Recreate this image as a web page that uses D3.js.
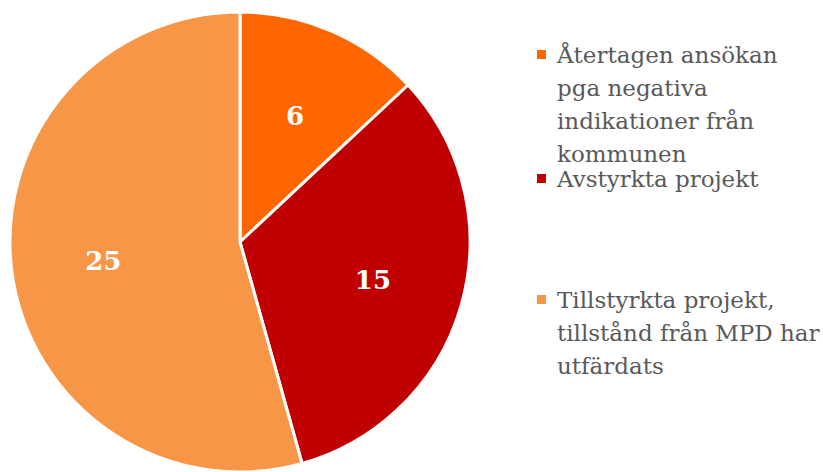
<!DOCTYPE html>
<html lang="sv">
<head>
  <meta charset="UTF-8">
  <title>Pie</title>
  <script src="https://d3js.org/d3.v7.min.js"></script>
  <style>
    body { margin: 0; background: #fff; }
    svg { font-family: "DejaVu Serif", serif; }
  </style>
</head>
<body>
  <svg></svg>
  <script>
    const categories = [
      'Återtagen ansökan pga negativa indikationer från kommunen',
      'Avstyrkta projekt',
      'Tillstyrkta projekt, tillstånd från MPD har utfärdats'
    ];
    const legendLines = [
      ['Återtagen ansökan', 'pga negativa', 'indikationer från', 'kommunen'],
      ['Avstyrkta projekt'],
      ['Tillstyrkta projekt,', 'tillstånd från MPD har', 'utfärdats']
    ];
    const values = [6, 15, 25];
    const colors = ['#ff6600', '#c00000', '#f79646'];

    const width = 823, height = 472;
    const cx = 240, cy = 242, radius = 230;

    const svg = d3.select('svg').attr('width', width).attr('height', height);
    const g = svg.append('g').attr('transform', `translate(${cx},${cy})`);

    const pie = d3.pie().sort(null).value(d => d);
    const arc = d3.arc().innerRadius(0).outerRadius(radius);
    const labelArc = d3.arc().innerRadius(138).outerRadius(138);
    const arcs = pie(values);

    g.selectAll('path')
      .data(arcs)
      .enter().append('path')
      .attr('d', arc)
      .attr('fill', (d, i) => colors[i])
      .attr('stroke', '#fff')
      .attr('stroke-width', 3)
      .attr('stroke-linejoin', 'round');

    g.selectAll('text.val')
      .data(arcs)
      .enter().append('text')
      .attr('class', 'val')
      .attr('transform', d => `translate(${labelArc.centroid(d)})`)
      .attr('text-anchor', 'middle')
      .attr('dy', '0.36em')
      .attr('fill', '#fff')
      .attr('font-weight', 'bold')
      .attr('font-size', '26px')
      .text(d => d.data);

    // legend
    const legendTops = [63, 187, 308];
    const lineH = 33;
    const legend = svg.append('g');
    legendLines.forEach((lines, i) => {
      legend.append('rect')
        .attr('x', 537).attr('y', legendTops[i] - 13)
        .attr('width', 9).attr('height', 9)
        .attr('fill', colors[i]);
      const t = legend.append('text')
        .attr('x', 557).attr('y', legendTops[i])
        .attr('fill', '#595959')
        .attr('font-size', '23px');
      lines.forEach((l, j) => {
        t.append('tspan').attr('x', 557).attr('dy', j === 0 ? 0 : lineH).text(l);
      });
    });
  </script>
</body>
</html>
